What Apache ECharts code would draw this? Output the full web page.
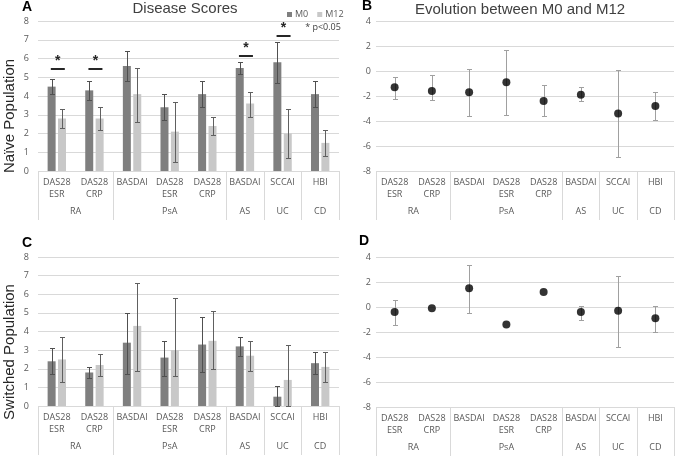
<!DOCTYPE html>
<html><head><meta charset="utf-8">
<script src="https://cdn.jsdelivr.net/npm/echarts@6/dist/echarts.min.js"></script>
<style>html,body{margin:0;padding:0;background:#fff}#c{width:677px;height:457px}</style>
</head><body><div id="c"></div>
<script>
// ---- Data ----
const categories = ['DAS28\nESR','DAS28\nCRP','BASDAI','DAS28\nESR','DAS28\nCRP','BASDAI','SCCAI','HBI'];
const groups = ['RA','PsA','AS','UC','CD'];
const groupSizes = [2,3,1,1,1];
const seriesNames = ['M0','M12'];

// Panel A: Naive population disease scores
const naiveM0 = [4.5,4.3,5.6,3.4,4.1,5.5,5.8,4.1];
const naiveM0Low = [4.1,3.8,4.8,2.7,3.4,5.2,4.7,3.4];
const naiveM0High = [4.9,4.8,6.4,4.1,4.8,5.8,6.9,4.8];
const naiveM12 = [2.8,2.8,4.1,2.1,2.4,3.6,2.0,1.5];
const naiveM12Low = [2.3,2.2,2.6,0.5,1.9,2.9,0.7,0.8];
const naiveM12High = [3.3,3.4,5.5,3.7,2.9,4.2,3.3,2.2];
const sigCats = [0,1,5,6];
const sigLevels = [5.45,5.45,6.15,7.2];

// Panel B: Naive population evolution
const naiveDelta = [-1.3,-1.6,-1.7,-0.9,-2.4,-1.9,-3.4,-2.8];
const naiveDeltaLow = [-2.2,-2.3,-3.6,-3.5,-3.6,-2.4,-6.9,-3.9];
const naiveDeltaHigh = [-0.5,-0.3,0.2,1.7,-1.1,-1.3,0.1,-1.7];

// Panel C: Switched population disease scores
const switchedM0 = [2.4,1.8,3.4,2.6,3.3,3.2,0.5,2.3];
const switchedM0Low = [1.7,1.5,1.7,1.6,1.8,2.7,0,1.7];
const switchedM0High = [3.1,2.1,5.0,3.5,4.8,3.7,1.1,2.9];
const switchedM12 = [2.5,2.2,4.3,3.0,3.5,2.7,1.4,2.1];
const switchedM12Low = [1.3,1.6,1.9,1.6,2.0,1.9,0,1.3];
const switchedM12High = [3.7,2.8,6.6,5.8,5.1,3.5,3.3,2.9];

// Panel D: Switched population evolution
const switchedDelta = [-0.4,-0.1,1.5,-1.4,1.2,-0.4,-0.3,-0.9];
const switchedDeltaLow = [-1.4,null,-0.5,null,null,-1.0,-3.2,-2.0];
const switchedDeltaHigh = [0.6,null,3.4,null,null,0.1,2.5,0.1];

// Axis ranges
const scoreAxis = {min:0, max:8, interval:1};
const evolAxis = {min:-8, max:4, interval:2};

// ---- Styling ----
const DARK = '#7f7f7f', LIGHT = '#c8c8c8', GRID = '#d9d9d9', TXT = '#595959';
const BAR_W = 8, BAR_GAP = 0.3;
const OFF = (BAR_W + BAR_W*BAR_GAP)/2;
const LBL_FONT = 'Open Sans';

const chart = echarts.init(document.getElementById('c'), null, {renderer:'canvas'});

// group axis (17 points between category boundaries)
const nPts = categories.length*2 + 1;
const groupLabels = new Array(nPts).fill('');
const boundaryIdx = new Set([0]);
let pos = 0;
groups.forEach((g,i)=>{ groupLabels[2*pos + groupSizes[i]] = g; pos += groupSizes[i]; boundaryIdx.add(2*pos); });

const grids = [
  {left:38, top:21, width:301, height:150},
  {left:376, top:21, width:300, height:150},
  {left:38, top:257, width:301, height:149},
  {left:376, top:257, width:300, height:150}
];

const xAxes = [], yAxes = [];
grids.forEach((g,gi)=>{
  xAxes.push({type:'category', gridIndex:gi, data:categories, boundaryGap:true,
    axisLine:{show:false}, axisTick:{show:false}, splitLine:{show:false},
    axisLabel:{interval:0, fontSize:9, lineHeight:11.5, margin:6, color:TXT, fontFamily:LBL_FONT}});
  xAxes.push({type:'category', gridIndex:gi, data:groupLabels, boundaryGap:false, position:'bottom',
    axisLine:{show:false}, splitLine:{show:false},
    axisTick:{show:true, length:49, interval:(idx)=>boundaryIdx.has(idx), lineStyle:{color:GRID, width:1}},
    axisLabel:{interval:0, fontSize:9, margin:36, color:TXT, fontFamily:LBL_FONT}});
  const r = (gi%2===0) ? scoreAxis : evolAxis;
  yAxes.push({type:'value', gridIndex:gi, min:r.min, max:r.max, interval:r.interval,
    axisLine:{show:false}, axisTick:{show:false},
    splitLine:{show:true, lineStyle:{color:GRID, width:1}},
    axisLabel:{fontSize:9, color:TXT, margin:(gi%2===0)?9:5, fontFamily:LBL_FONT}});
});

function errSeries(gi, low, high, offset, color){
  const data = [];
  low.forEach((l,i)=>{ if(l!=null && high[i]!=null) data.push([i,l,high[i]]); });
  return {type:'custom', xAxisIndex:gi*2, yAxisIndex:gi, data, z:10, silent:true,
    encode:{x:0, y:[1,2]},
    renderItem:(params, api)=>{
      const p1 = api.coord([api.value(0), api.value(1)]);
      const p2 = api.coord([api.value(0), api.value(2)]);
      const x = Math.round(p1[0] + offset) + 0.5;
      const y1 = Math.round(p1[1]) + 0.5, y2 = Math.round(p2[1]) + 0.5;
      const st = {stroke:color, lineWidth:1};
      return {type:'group', children:[
        {type:'line', shape:{x1:x, y1:y1, x2:x, y2:y2}, style:st},
        {type:'line', shape:{x1:x-2.5, y1:y1, x2:x+2.5, y2:y1}, style:st},
        {type:'line', shape:{x1:x-2.5, y1:y2, x2:x+2.5, y2:y2}, style:st}
      ]};
    }};
}

function barSeries(gi, name, data, color){
  return {type:'bar', name, xAxisIndex:gi*2, yAxisIndex:gi, data, barWidth:BAR_W, barGap:(BAR_GAP*100)+'%',
    itemStyle:{color}, silent:true};
}

function dotSeries(gi, data){
  return {type:'scatter', xAxisIndex:gi*2, yAxisIndex:gi, data, symbolSize:8, z:11,
    itemStyle:{color:'#000'}, silent:true};
}

const series = [
  barSeries(0, seriesNames[0], naiveM0, DARK),
  barSeries(0, seriesNames[1], naiveM12, LIGHT),
  errSeries(0, naiveM0Low, naiveM0High, -OFF, '#505050'),
  errSeries(0, naiveM12Low, naiveM12High, OFF, '#606060'),
  {type:'custom', xAxisIndex:0, yAxisIndex:0, data:sigCats.map((c,i)=>[c, sigLevels[i]]), z:12, silent:true,
    renderItem:(params, api)=>{
      const p = api.coord([api.value(0), api.value(1)]);
      const x = p[0] + 1, y = Math.round(p[1]);
      return {type:'group', children:[
        {type:'line', shape:{x1:x-7, y1:y, x2:x+7, y2:y}, style:{stroke:'#262626', lineWidth:2}},
        {type:'text', x:x, y:y-8, style:{text:'*', fontSize:14, fontWeight:'bold', fontFamily:'Liberation Sans', fill:'#262626', align:'center', verticalAlign:'middle'}}
      ]};
    }},
  dotSeries(1, naiveDelta),
  errSeries(1, naiveDeltaLow, naiveDeltaHigh, 0, '#a0a0a0'),
  barSeries(2, seriesNames[0], switchedM0, DARK),
  barSeries(2, seriesNames[1], switchedM12, LIGHT),
  errSeries(2, switchedM0Low, switchedM0High, -OFF, '#505050'),
  errSeries(2, switchedM12Low, switchedM12High, OFF, '#606060'),
  dotSeries(3, switchedDelta),
  errSeries(3, switchedDeltaLow, switchedDeltaHigh, 0, '#a0a0a0')
];

const T = (text, x, y, o) => Object.assign({type:'text', x, y, style:Object.assign({text, fill:'#404040', fontSize:15, fontFamily:'Liberation Sans', align:'center', verticalAlign:'middle'}, o||{})});
const graphic = [
  T('A', 27, 7, {fontWeight:'bold', fontSize:14, fill:'#000'}),
  T('B', 367, 6, {fontWeight:'bold', fontSize:14, fill:'#000'}),
  T('C', 27, 243, {fontWeight:'bold', fontSize:14, fill:'#000'}),
  T('D', 364, 241, {fontWeight:'bold', fontSize:14, fill:'#000'}),
  T('Disease Scores', 185, 9),
  T('Evolution between M0 and M12', 520, 10),
  T('* p<0.05', 323, 27, {fontSize:9, fill:'#404040', fontFamily:LBL_FONT}),
  {type:'text', x:10, y:116, rotation:Math.PI/2, style:{text:'Naïve Population', fill:'#262626', fontSize:15, fontFamily:'Liberation Sans', align:'center', verticalAlign:'middle'}},
  {type:'text', x:10, y:352, rotation:Math.PI/2, style:{text:'Switched Population', fill:'#262626', fontSize:15, fontFamily:'Liberation Sans', align:'center', verticalAlign:'middle'}}
];

chart.setOption({
  animation:false,
  backgroundColor:'#fff',
  grid:grids,
  xAxis:xAxes,
  yAxis:yAxes,
  legend:{data:seriesNames, left:282, top:5, icon:'rect', itemWidth:5, itemHeight:5, itemGap:9,
    textStyle:{fontSize:9, color:TXT, fontFamily:LBL_FONT, padding:[0,0,0,-2]}},
  graphic,
  series
});
</script></body></html>
